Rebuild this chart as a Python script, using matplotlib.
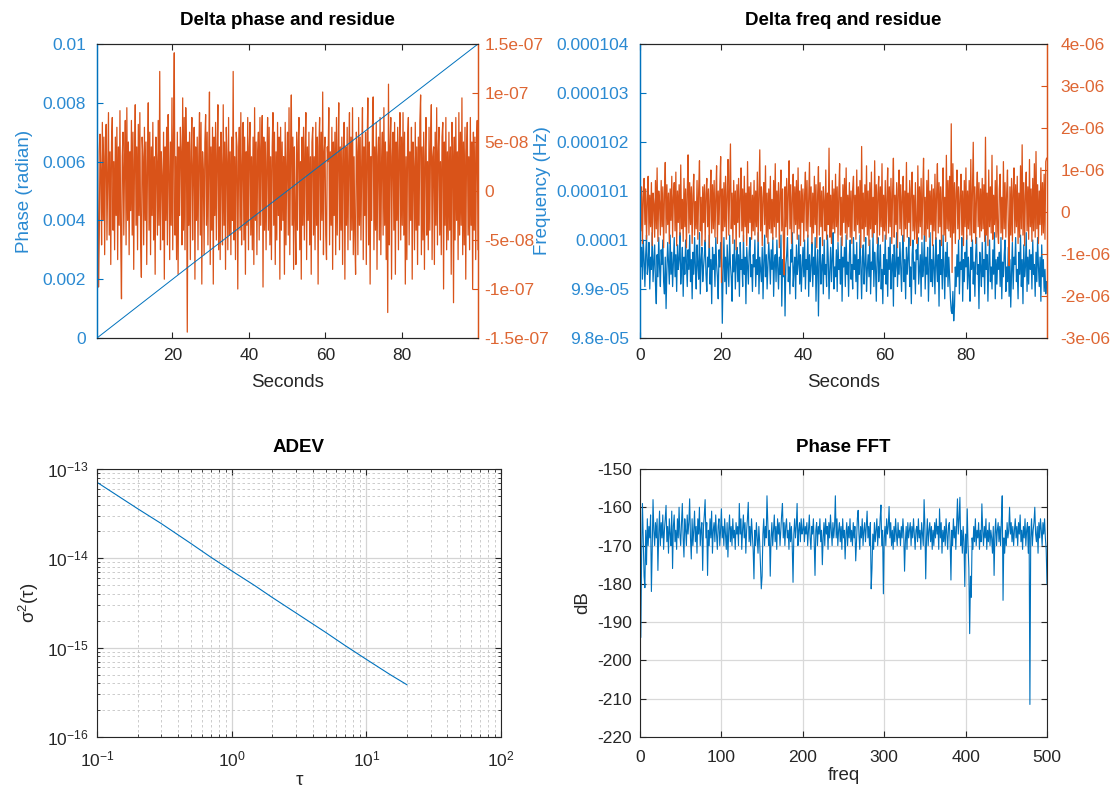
import numpy as np
import matplotlib.pyplot as plt
from matplotlib.ticker import LogLocator, NullFormatter

plt.rcParams['font.family'] = ['Liberation Sans', 'DejaVu Sans']
plt.rcParams['mathtext.fontset'] = 'custom'
plt.rcParams['mathtext.rm'] = 'Liberation Sans'
plt.rcParams['mathtext.it'] = 'Liberation Sans:italic'
plt.rcParams['mathtext.default'] = 'regular'
plt.rcParams['axes.unicode_minus'] = False

BLUE = '#0072BD'
ORANGE = '#D95319'
BLUE_TXT = '#2a8ad2'
ORANGE_TXT = '#de6633'
DARK = '#262626'

# ---- Delta phase and residue ----
phase_t = [0.3, 25.0, 50.0, 75.0, 99.9]
phase_rad = [0.0, 0.0025, 0.005, 0.0075, 0.01]
# phase residue, units of 1e-9, one sample every 0.2 s from t=0.3
phase_resid_n = [
    62, 40, -98, -45, 58, 20, -55, 70, -30, 55, -65, 35, 68, -50, 15, 80, -45, 40, -75, 50,
    75, -40, 30, -60, 55, -25, 65, -70, 45, -35, 82, -50, -110, 35, 60, -45, 25, 72, -55, 85,
    -30, 50, -65, 40, -20, 72, -45, 60, -80, 30, 88, -35, 45, -60, 68, -25, 80, -50, -88, 55,
    35, -55, 65, -30, 50, -75, 25, 90, -40, 60, -65, 45, -25, 70, -50, 35, -85, 55, 30, -45,
    72, -35, 122, -60, 40, 15, -50, 60, -90, 45, -30, 65, -55, 78, 25, -70, 50, -35, 95, -60,
    55, 141, -45, 35, -70, 60, -85, 45, -25, 65, 40, -55, 95, -40, 75, -60, 85, 30, -144, 50,
    -35, 60, -70, 40, 75, -50, 25, 65, -90, 45, -30, 55, -60, 35, 80, -45, 70, -95, 40, 20,
    -65, 50, 78, -35, 60, -55, 30, 101, -75, 45, -40, 65, -95, 55, -25, 70, -50, 35, 88, -60,
    45, -70, 60, 25, -55, 88, -35, 50, -80, 65, 30, -60, 75, -45, 40, -65, 55, -30, 122, -50,
    35, -70, 60, 45, -100, 30, 65, -40, 80, -55, 25, 70, -50, 55, -85, 40, -35, 75, -60, 45,
    70, -45, 35, -60, 55, -75, 85, -30, 50, -65, 40, 60, -50, 75, -35, 45, 77, -98, 55, -40,
    50, -60, 30, 75, -40, 65, -55, 35, -70, 45, 80, -35, 60, -75, 40, -50, 70, -25, 55, -90,
    65, -40, 50, -30, 35, -85, 70, -55, 25, 60, -45, 85, -65, 40, 98, -35, 55, -80, 45, -25,
    -75, 60, -40, 50, 75, -60, 30, -90, 55, -35, 65, -50, 40, 80, -70, 45, -30, 60, -55, 35,
    -85, 50, 65, -45, 35, -60, 70, -35, 55, -95, 45, 75, -50, 60, -30, 101, -65, 40, 55, -45,
    -70, 45, 30, 85, -55, 40, -35, 65, -80, 50, -25, 60, -65, 75, -45, 35, 90, -60, 45, -40,
    55, -75, 40, 70, -90, 45, -35, 65, -60, 30, 80, -50, 55, -40, 85, -65, 35, -45, -85, 60,
    40, -65, 75, -35, 55, -50, 30, 85, -70, 45, -25, 60, -75, 40, 95, -55, 50, -95, 35, -30,
    65, 96, -60, 45, -40, 70, -80, 35, 55, -50, 75, -65, 30, 60, -45, 85, -35, 50, -70, 40,
    -124, 109, -55, 45, 75, -90, 35, 60, -40, 70, -85, 50, -30, 65, -60, 40, 80, -50, 55, -35,
    80, -45, 60, -95, 35, -70, 55, 75, -55, 40, -30, 65, -90, 50, 25, -60, 70, -40, 45, -75,
    55, -35, 70, 98, -65, 45, -50, 60, -80, 35, 75, -45, 30, -60, 65, -40, 50, 88, -70, 35,
    45, -75, 60, -35, 85, -55, 40, 65, -45, 30, -65, 55, 70, -100, 50, -35, 75, -60, 40, -50,
    60, -40, 45, -85, 70, 35, -114, 55, -50, 75, -30, 40, -70, 80, -45, 60, -35, 95, -65, 50,
    -55, 65, -90, 40, 70, -45, 35, -60, 75, -35, 50, -100, 60, -40, 55, -70, 45, 72, -60, 80,
]
phase_yticks = [0, 0.002, 0.004, 0.006, 0.008, 0.01]
phase_ylabels = ['0', '0.002', '0.004', '0.006', '0.008', '0.01']
presid_yticks = [-1.5e-7, -1e-7, -5e-8, 0, 5e-8, 1e-7, 1.5e-7]
presid_ylabels = ['-1.5e-07', '-1e-07', '-5e-08', '0', '5e-08', '1e-07', '1.5e-07']

# ---- Delta freq and residue ----
# frequency minus 100 uHz, units of 0.01 uHz, one sample every 0.2 s from t=0
freq_dev = [
    20, -55, -15, -80, 0, -40, -95, -30, 10, -70, -50, -5, -100, -35, -60, 15, -85, -45, -10, -90,
    -130, -30, -75, 5, -55, -95, -20, -50, 0, -85, -110, -35, -140, -60, -5, -45, -90, 10, -70, -25,
    -95, -45, 5, -75, -30, -105, -10, -60, -40, 15, -90, -55, -15, -115, -35, -70, 0, -50, -95, -20,
    -60, 10, -85, -40, -120, -25, -70, 5, -55, -100, -10, -50, -80, 15, -110, -40, -15, -85, -55, -30,
    0, -70, -105, -35, -55, 10, -90, -40, -130, -15, -60, -30, -95, 5, -50, -75, -120, -20, -55, -5,
    -40, -170, -60, 5, -85, -35, -110, -10, -55, -95, 10, -50, -75, -125, -30, -65, 0, -100, -45, -15,
    -85, -30, -115, -5, -60, -40, -95, 10, -70, -35, -130, -15, -55, -90, -25, 5, -75, -50, -105, -30,
    -55, 0, -95, -40, -70, 15, -110, -35, -60, -85, -15, -120, -45, 10, -75, -30, -100, -55, -5, -40,
    -90, -20, -60, 5, -115, -45, -30, -85, 0, -55, -100, -35, -70, 10, -135, -40, -75, -15, -155, -50,
    -30, 5, -85, -55, -110, -20, -45, 15, -95, -60, -35, -120, -10, -70, -50, 10, -90, -30, -105, -55,
    -15, -75, 0, -100, -40, -60, 10, -115, -30, -85, -50, -5, -95, -35, -70, 5, -125, -55, -20, -155,
    -45, 5, -90, -55, -30, -110, 0, -70, -50, -95, 10, -35, -120, -60, -15, -85, -40, 15, -100, -55,
    -75, -20, -105, -5, -60, -40, -90, 5, -125, -35, -55, -15, -95, 10, -70, -45, -115, -30, 0, -80,
    -50, -100, 5, -60, -30, -85, -5, -120, -40, -70, 10, -55, -120, -35, -10, -90, -50, 5, -105, -60,
    -30, -75, 0, -110, -45, -60, 15, -95, -25, -55, -125, -35, 5, -85, -50, -10, -100, -60, -130, -30,
    -70, 10, -90, -40, -115, -15, -60, 5, -100, -50, -30, -135, -10, -75, -55, 15, -95, -35, -70, -5,
    -55, -105, -25, 10, -85, -40, -120, -15, -70, -35, 5, -95, -55, -130, -30, 0, -80, -45, -110, -20,
    -40, 5, -90, -60, -30, -115, -5, -75, -50, 10, -100, -35, -70, -15, -125, -55, 15, -85, -40, -95,
    -10, -60, -110, 5, -50, -85, -30, -135, 0, -70, -40, -100, 10, -55, -120, -25, -75, -5, -95, -35,
    -80, -120, -145, -150, -105, -165, -135, -55, -95, -30, -75, 0, -110, -45, -60, 5, -125, -40, -85, -25,
    -55, 10, -100, -35, -75, -125, -15, -60, 0, -90, -45, -115, -30, 5, -70, -50, -140, -25, -55, -95,
    -5, -75, -40, -110, 10, -60, -30, -125, -50, 0, -85, -55, -100, -20, -70, 15, -120, -40, -90, -35,
    -60, -25, -95, 5, -120, -45, -75, -30, 0, -105, -55, -85, -15, -115, -40, -137, -65, -5, -100, -35,
    -50, 5, -85, -60, -120, -25, -70, 10, -95, -40, -130, -10, -75, -55, 15, -105, -35, -90, -20, -60,
    -30, -100, 0, -70, -50, -115, -25, -85, 5, -55, -95, -35, -125, -10, -75, -40, -105, -60, -110, -85,
]
# frequency residue, units of 0.01 uHz, same sampling
freq_resid = [
    84, -45, 60, -75, 35, 80, -30, 55, -65, 25, 85, -55, 40, -35, 70, -80, 45, 20, -60, 75,
    -40, 105, -70, 50, 25, -55, 75, -35, 60, -85, 40, 118, -50, 65, -30, 45, -75, 55, -20, 85,
    -60, 35, 70, -45, 95, -80, 50, -25, 65, -55, 112, -40, 30, -70, 80, -35, 55, -85, 45, 136,
    -50, 70, -30, 60, -75, 40, 90, -55, 25, -40, 75, -65, 50, 122, -45, 35, -80, 60, -25, 65,
    -70, 45, 80, -35, 55, -85, 30, 100, -50, 65, -40, 75, -60, 35, 110, -75, 50, -30, 60, 132,
    -168, 55, -45, 70, -35, 85, -65, 40, 125, -55, 60, 162, -40, 45, -75, 75, -30, 50, -90, 65,
    -25, 80, -60, 35, 105, -45, 55, -70, 85, -35, 45, -80, 120, -50, 60, -25, 70, -65, 40, -45,
    75, -55, 50, -35, 95, -70, 40, 148, -45, 60, -80, 35, 70, -30, 110, -60, 45, -75, 55, -40,
    85, -50, 30, -65, 75, -35, 115, -60, 50, -25, 70, -85, 40, 100, -45, 55, -70, -150, 60, -35,
    80, -55, 45, 122, -40, 65, -75, 35, 90, -50, 60, -30, 75, -65, 105, -40, 50, -80, 65, -25,
    55, -70, 40, 95, -45, 75, -60, 30, 118, -35, 60, -75, 45, -50, 85, -30, 65, -85, 40, 108,
    -55, 70, -35, 50, -80, 60, 25, -45, 100, -65, 45, -30, 152, -60, 40, -75, 75, -40, 55, -50,
    90, -35, 60, -70, 45, 115, -55, 35, -80, 65, -25, 80, -50, 105, -65, 40, -35, 70, -60, 50,
    -75, 55, 85, -45, 40, -65, 100, -30, 60, -50, 75, -85, 156, -40, 45, -70, 65, -35, 110, -55,
    50, -80, 70, -40, 95, -60, 35, -50, 122, -30, 65, -75, 45, 85, -55, 60, -35, 115, -70, 40,
    -45, 75, -65, 30, 105, -50, 60, -35, 80, -75, 45, 128, -60, 40, -30, 70, -85, 55, 100, -40,
    65, -55, 35, 85, -70, 50, -40, 118, -60, 45, -25, 75, -80, 55, 95, -45, 40, -65, 70, -35,
    -75, 110, -50, 60, -35, 80, -65, 45, 128, -55, 35, -70, 75, -40, 100, -60, 50, -30, 65, -80,
    55, -45, 90, -65, 40, 115, -50, 70, -35, 60, -80, 45, 105, -55, 35, -70, 135, -40, 75, -45,
    85, -60, 210, -144, 115, -50, 70, -75, 45, 100, -40, 60, -65, 35, 90, -55, 50, -80, 75, -35,
    105, -65, 50, -40, 75, -55, 125, -70, 45, 166, -50, 60, -75, 40, 95, -35, 70, -60, 55, -45,
    80, -40, 65, -70, 178, -55, 45, -80, 100, -35, 60, -50, 135, -65, 40, -30, 75, -60, 110, -45,
    -75, 55, 90, -50, 35, -65, 120, -40, 70, -60, 45, 100, -35, -128, 60, -55, 80, -70, 50, 105,
    -50, 65, -35, 85, -75, 45, -60, 110, -40, 160, -55, 70, -80, 40, 95, -45, 60, -65, 125, -35,
    55, -70, 80, -45, 115, -60, 144, -40, 65, -75, 50, -30, 105, -55, 70, -50, 90, -65, 120, 128,
]
freq_yticks = [9.8e-5, 9.9e-5, 1.0e-4, 1.01e-4, 1.02e-4, 1.03e-4, 1.04e-4]
freq_ylabels = ['9.8e-05', '9.9e-05', '0.0001', '0.000101', '0.000102', '0.000103', '0.000104']
fresid_yticks = [-3e-6, -2e-6, -1e-6, 0, 1e-6, 2e-6, 3e-6, 4e-6]
fresid_ylabels = ['-3e-06', '-2e-06', '-1e-06', '0', '1e-06', '2e-06', '3e-06', '4e-06']

# ---- ADEV ----
adev_tau = [0.1, 0.2, 0.3, 0.5, 0.7, 1.0, 1.5, 2.0, 3.0, 5.0, 7.0, 10.0, 15.0, 20.0]
adev_sigma2_f = [71, 36, 24.5, 14.6, 10.3, 7.25, 4.9, 3.65, 2.45, 1.48, 1.05, 0.74, 0.50, 0.385]  # 1e-15

# ---- Phase FFT, one bin per Hz from 0 to 500 ----
fft_db = [
    -165, -194, -172, -159, -168, -178, -181, -166, -175, -163, -170, -165, -168, -162, -182, -171, -158, -166, -170, -164,
    -168, -163, -176.5, -167, -161, -170, -164, -168, -162, -171, -166, -163, -159.5, -169, -165, -172, -163, -167, -170, -161,
    -176, -165, -162, -169, -166, -171, -163, -168, -160, -167, -170, -164, -159, -168, -173, -163, -166, -170, -162, -167,
    -164, -157.8, -168, -173.5, -163, -170, -166, -161, -169, -165, -172, -163, -167, -160, -170, -166, -164, -176.5, -165, -162,
    -158, -168, -164, -177.8, -166, -170, -163, -168, -161, -172, -166, -164, -169, -162, -167, -171, -165, -163, -170, -166,
    -160.4, -168, -165, -170, -163, -167, -171, -164, -173, -166, -162, -169, -165, -170, -163, -168, -166, -171, -164, -167,
    -165, -170, -159, -167, -163, -171, -166, -162, -168, -164, -172, -166, -163, -158.7, -169, -165, -170, -163, -167, -171,
    -178.7, -166, -170, -164, -168, -172, -165, -169, -175, -181.3, -178, -167, -163, -170, -165, -168, -157, -164, -170, -166,
    -178, -168, -164, -170, -166, -162, -169, -165, -171, -163, -167, -164, -170, -166, -162, -159, -168, -164, -170, -165,
    -163, -168, -166, -171, -164, -169, -165, -170, -179.6, -167, -163, -168, -165, -159, -170, -166, -164, -169, -163, -167,
    -166, -163, -169, -165, -167, -164, -170, -166, -162, -168, -171, -165, -167, -163, -169, -177.8, -166, -164, -170, -165,
    -167, -163, -169, -166, -175, -168, -164, -170, -163, -167, -165, -171, -164, -168, -162, -166, -170, -164, -168, -165,
    -157, -168, -163, -170, -166, -164, -169, -165, -171, -163, -168, -166, -173.5, -167, -164, -170, -165, -168, -163, -169,
    -166, -170, -164, -168, -165, -174, -169, -163, -160.8, -167, -171, -165, -168, -163, -170, -166, -164, -169, -165, -161,
    -168, -165, -170, -164, -181.3, -176, -167, -171, -164, -169, -166, -163, -170, -165, -168, -163, -159.4, -170, -166, -182.6,
    -168, -165, -170, -163, -167, -165, -159.8, -168, -164, -170, -166, -171, -165, -169, -163, -167, -170, -164, -168, -166,
    -170, -165, -168, -163, -167, -176.7, -169, -165, -171, -164, -168, -166, -164, -170, -165, -168, -163, -167, -171, -166,
    -165, -169, -163, -168, -166, -171, -164, -167, -170, -158, -165, -178.7, -168, -163, -170, -166, -164, -169, -165, -171,
    -166, -170, -164, -168, -163, -167, -165, -171, -160.4, -168, -164, -172, -166, -169, -165, -170, -163, -167, -171, -165,
    -164, -169, -179, -166, -170, -163, -168, -165, -171, -164, -157.8, -167, -163, -157.4, -170, -166, -172, -165, -169, -180.7,
    -167, -172, -160.4, -170, -176, -193, -178, -183.5, -168, -171, -165, -169, -163, -170, -166, -168, -164, -171, -166, -169,
    -159.1, -166, -170, -165, -168, -163, -171, -166, -169, -164, -170, -166, -168, -172, -165, -177.8, -167, -163, -170, -166,
    -164, -169, -165, -170, -163, -157, -184.3, -168, -172, -166, -170, -164, -168, -166, -160, -167, -164, -169, -165, -170,
    -166, -163, -168, -165, -170, -164, -167, -162, -169, -166, -171, -165, -168, -163, -170, -166, -164, -172, -165, -211.5,
    -168, -163, -170, -166, -164, -160, -167, -169, -165, -172, -164, -168, -163, -166, -170, -164, -167, -163, -168, -171,
    -180,
]

phase_resid_t = 0.3 + 0.2 * np.arange(len(phase_resid_n))
freq_t = 0.2 * np.arange(len(freq_dev))
fft_freq = np.arange(len(fft_db), dtype=float)

fig = plt.figure(figsize=(11.18, 7.92), dpi=100)
W, H = 1118, 792
FS_TICK = 12.5
FS_LABEL = 13.5


def px_axes(left, top, right, bottom):
    return fig.add_axes([left / W, 1 - bottom / H, (right - left) / W, (bottom - top) / H])


def style_yy(ax, ax2, right_pad):
    for a in (ax, ax2):
        for s in ('top', 'bottom'):
            a.spines[s].set_color(DARK)
            a.spines[s].set_linewidth(0.8)
        a.spines['left'].set_color(BLUE)
        a.spines['right'].set_color(ORANGE)
        a.spines['left'].set_linewidth(0.9)
        a.spines['right'].set_linewidth(0.9)
    ax.tick_params(axis='x', direction='in', top=True, length=4, width=0.8, pad=7,
                   color=DARK, labelcolor=DARK, labelsize=FS_TICK)
    ax.tick_params(axis='y', direction='in', length=4, width=0.8, pad=8,
                   color=BLUE, labelcolor=BLUE_TXT, labelsize=FS_TICK)
    ax2.tick_params(axis='y', direction='in', length=4, width=0.8, pad=right_pad,
                    color=ORANGE, labelcolor=ORANGE_TXT, labelsize=FS_TICK)


# top left: phase with phase residue
ax1 = px_axes(97, 44, 478, 338)
ax1b = ax1.twinx()
ax1b.plot(phase_resid_t, np.array(phase_resid_n) * 1e-9, color=ORANGE, lw=0.9)
ax1.plot(phase_t, phase_rad, color=BLUE, lw=0.7)
ax1.set_zorder(ax1b.get_zorder() + 1)
ax1.patch.set_visible(False)
ax1.set_xlim(0.3, 99.9)
ax1.set_xticks([20, 40, 60, 80])
ax1.set_ylim(0, 0.01)
ax1.set_yticks(phase_yticks)
ax1.set_yticklabels(phase_ylabels)
ax1b.set_ylim(-1.5e-7, 1.5e-7)
ax1b.set_yticks(presid_yticks)
ax1b.set_yticklabels(presid_ylabels)
style_yy(ax1, ax1b, 4.5)
ax1.set_xlabel('Seconds', fontsize=FS_LABEL, color=DARK, labelpad=8)
ax1.set_ylabel('Phase (radian)', fontsize=FS_LABEL, color=BLUE_TXT, labelpad=7)
ax1.set_title('Delta phase and residue', fontsize=FS_LABEL, fontweight='bold', pad=14)

# top right: frequency with frequency residue
ax2 = px_axes(640, 44, 1047, 338)
ax2b = ax2.twinx()
ax2.plot(freq_t, 1e-4 + np.array(freq_dev) * 1e-8, color=BLUE, lw=0.9)
ax2b.plot(freq_t, np.array(freq_resid) * 1e-8, color=ORANGE, lw=0.9)
ax2.set_xlim(0, 99.9)
ax2.set_xticks([0, 20, 40, 60, 80])
ax2.set_ylim(9.8e-5, 1.04e-4)
ax2.set_yticks(freq_yticks)
ax2.set_yticklabels(freq_ylabels)
ax2b.set_ylim(-3e-6, 4e-6)
ax2b.set_yticks(fresid_yticks)
ax2b.set_yticklabels(fresid_ylabels)
style_yy(ax2, ax2b, 9.5)
ax2.set_xlabel('Seconds', fontsize=FS_LABEL, color=DARK, labelpad=8)
ax2.set_ylabel('Frequency (Hz)', fontsize=FS_LABEL, color=BLUE_TXT)
ax2.set_title('Delta freq and residue', fontsize=FS_LABEL, fontweight='bold', pad=14)


def style_box(ax):
    for s in ax.spines.values():
        s.set_color(DARK)
        s.set_linewidth(0.8)
    ax.tick_params(which='both', direction='in', top=True, right=True,
                   color=DARK, labelcolor=DARK, labelsize=FS_TICK)
    ax.tick_params(which='major', length=4, width=0.8)
    ax.tick_params(axis='x', which='major', pad=9)
    ax.tick_params(axis='y', which='major', pad=6)
    ax.tick_params(which='minor', length=2.5, width=0.6)
    ax.set_axisbelow(True)


# bottom left: ADEV
ax3 = px_axes(97, 469, 501, 737)
ax3.loglog(adev_tau, np.array(adev_sigma2_f) * 1e-15, color=BLUE, lw=0.8)
ax3.set_xlim(0.1, 100)
ax3.set_ylim(1e-16, 1e-13)
for axis in (ax3.xaxis, ax3.yaxis):
    axis.set_major_locator(LogLocator(base=10, numticks=10))
    axis.set_minor_locator(LogLocator(base=10, subs=np.arange(2, 10), numticks=10))
    axis.set_minor_formatter(NullFormatter())
ax3.grid(which='major', color='#d4d4d4', lw=0.9, ls='-')
ax3.grid(which='minor', color='#c4c4c4', lw=0.6, ls=(0, (3, 3)))
style_box(ax3)
ax3.set_xlabel('τ', fontsize=FS_LABEL, color=DARK, labelpad=2)
ax3.set_ylabel('σ$^2$(τ)', fontsize=FS_LABEL, color=DARK)
ax3.set_title('ADEV', fontsize=FS_LABEL, fontweight='bold', pad=12)

# bottom right: phase spectrum
ax4 = px_axes(640, 469, 1047, 737)
ax4.plot(fft_freq, fft_db, color=BLUE, lw=0.8)
ax4.set_xlim(0, 500)
ax4.set_ylim(-220, -150)
ax4.set_xticks([0, 100, 200, 300, 400, 500])
ax4.set_yticks(range(-220, -149, 10))
ax4.grid(color='#d9d9d9', lw=0.9)
style_box(ax4)
ax4.set_xlabel('freq', fontsize=FS_LABEL, color=DARK, labelpad=2)
ax4.set_ylabel('dB', fontsize=FS_LABEL, color=DARK)
ax4.set_title('Phase FFT', fontsize=FS_LABEL, fontweight='bold', pad=12)

fig.savefig('out.png', dpi=100)
